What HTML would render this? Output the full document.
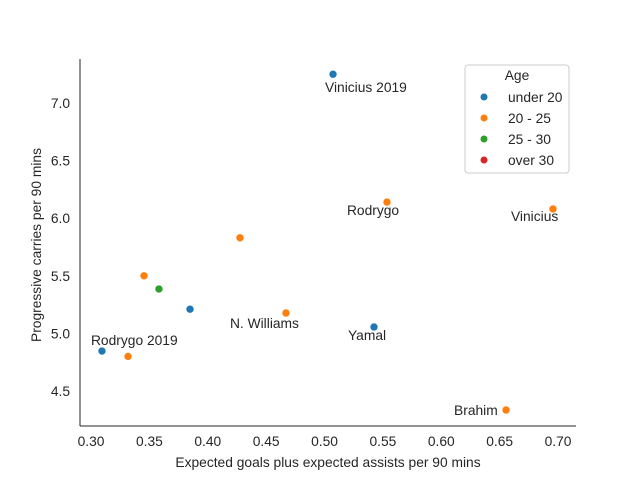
<!DOCTYPE html>
<html><head><meta charset="utf-8"><style>
body{margin:0;background:#fff;font-family:"Liberation Sans","DejaVu Sans",sans-serif}
svg text{font-family:"Liberation Sans","DejaVu Sans",sans-serif;fill:#262626}
</style></head><body>
<svg id="c" width="640" height="480"></svg>
<script>
const xs=[0.5073,0.5535,0.6957,0.4276,0.3454,0.3582,0.3848,0.467,0.5424,0.3094,0.3317,0.6555];
const ys=[7.25,6.14,6.08,5.83,5.50,5.385,5.21,5.177,5.056,4.847,4.80,4.335];
const ages=["under 20","20 - 25","20 - 25","20 - 25","20 - 25","25 - 30","under 20","20 - 25","under 20","under 20","20 - 25","20 - 25"];
const labels=["Vinicius 2019","Rodrygo","Vinicius","","","","","N. Williams","Yamal","Rodrygo 2019","","Brahim"];
const labelDx=[-8,-40,-42,0,0,0,0,-56,-26,-11,0,-52];
const labelDy=[18,13,12,0,0,0,0,15,13,-6,0,5];
const xTicks=[0.30,0.35,0.40,0.45,0.50,0.55,0.60,0.65,0.70];
const yTicks=[4.5,5.0,5.5,6.0,6.5,7.0];
const legendCats=["under 20","20 - 25","25 - 30","over 30"];
const colors={"under 20":"#1f77b4","20 - 25":"#ff7f0e","25 - 30":"#2ca02c","over 30":"#d62728"};
const NS="http://www.w3.org/2000/svg",svg=document.getElementById('c');
const FS=13.8;
const X=v=>91+(v-0.30)*1167.5, Y=v=>103-(v-7.0)*115.2;
function mk(t,a,p){const e=document.createElementNS(NS,t);for(const k in a)e.setAttribute(k,a[k]);(p||svg).appendChild(e);return e;}
let e=mk('line',{x1:80,y1:59,x2:80,y2:426,stroke:'#262626','stroke-width':1});


e=mk('line',{x1:80,y1:426,x2:576,y2:426,stroke:'#262626','stroke-width':1});


xTicks.forEach(t=>{e=mk('text',{x:X(t),y:446,'text-anchor':'middle','font-size':FS});e.textContent=t.toFixed(2);

});
yTicks.forEach(t=>{e=mk('text',{x:70,y:Y(t)+5,'text-anchor':'end','font-size':FS});e.textContent=t.toFixed(1);

});
e=mk('text',{x:328,y:467,'text-anchor':'middle','font-size':FS});e.textContent='Expected goals plus expected assists per 90 mins';


e=mk('text',{x:41,y:245,'text-anchor':'middle','font-size':FS,transform:'rotate(-90 41 245)'});e.textContent='Progressive carries per 90 mins';


xs.forEach((v,i)=>{
 e=mk('circle',{cx:X(v),cy:Y(ys[i]),r:4,fill:colors[ages[i]],stroke:'#fff','stroke-width':0.6});
 
 
 if(labels[i]){e=mk('text',{x:X(v)+labelDx[i],y:Y(ys[i])+labelDy[i],'font-size':FS});e.textContent=labels[i];
 
 }
});
const lg=mk('g',{});


mk('rect',{x:465,y:65,width:104,height:108,rx:3,fill:'#fff',stroke:'#ccc'},lg);
e=mk('text',{x:517,y:80,'text-anchor':'middle','font-size':FS},lg);e.textContent='Age';
legendCats.forEach((c,i)=>{
 const yy=97+i*21;
 e=mk('circle',{cx:484,cy:yy,r:3.5,fill:colors[c]},lg);
 
 
 e=mk('text',{x:508,y:yy+5,'font-size':FS},lg);e.textContent=c;
 
 
});
</script>
</body></html>
